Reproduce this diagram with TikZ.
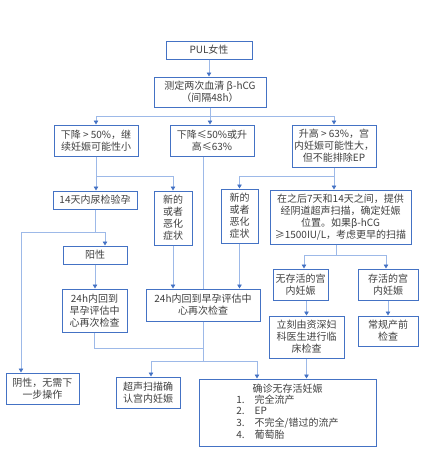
\documentclass[tikz,border=0pt]{standalone}
\usepackage{fontspec}
\setmainfont{Noto Sans CJK SC}
\usetikzlibrary{arrows.meta,calc}
\definecolor{boxblue}{HTML}{4472C4}
\definecolor{lineblue}{HTML}{9DB9E8}
\definecolor{txt}{HTML}{404040}
\begin{document}
\begin{tikzpicture}[x=1pt,y=-1pt,
 box/.style={draw=boxblue, line width=1pt, fill=white, text=txt, align=center, inner sep=1pt, font=\fontsize{10}{12}\selectfont},
 conn/.style={draw=lineblue, line width=0.9pt},
 arr/.style={conn, -{Triangle[width=4.5pt,length=4pt,color=boxblue]}}]
\fill[white] (0,0) rectangle (431,458);
\useasboundingbox (0,0) rectangle (431,458);

\node[box,minimum width=86pt,minimum height=18pt] (pul) at (209,50) {PUL女性};
\node[box,minimum width=112pt,minimum height=30pt] (hcg) at (210,92) {测定两次血清 β-hCG\\（间隔48h）};
\node[box,minimum width=84pt,minimum height=31pt] (d1) at (96,140.5) {下降 > 50\%，继\\续妊娠可能性小};
\node[box,minimum width=84pt,minimum height=31pt] (d2) at (212,140.5) {下降≤50\%或升\\高≤63\%};
\node[box,minimum width=84pt,minimum height=42pt] (d3) at (334,146) {升高 > 63\%，宫\\内妊娠可能性大，\\但不能排除EP};
\node[box,minimum width=84pt,minimum height=18pt] (urine) at (95,200) {14天内尿检验孕};
\node[box,minimum width=38pt,minimum height=54pt] (newL) at (173,218) {新的\\或者\\恶化\\症状};
\node[box,minimum width=37pt,minimum height=54pt] (newR) at (239.5,216) {新的\\或者\\恶化\\症状};
\node[box,minimum width=141pt,minimum height=54pt] (scan) at (340.5,217) {在之后7天和14天之间，提供\\经阴道超声扫描，确定妊娠\\位置。如果β-hCG\\≥1500IU/L，考虑更早的扫描};
\node[box,minimum width=64pt,minimum height=18pt] (pos) at (95,255) {阳性};
\node[box,minimum width=65pt,minimum height=43pt] (r24L) at (94.5,310.5) {24h内回到\\早孕评估中\\心再次检查};
\node[box,minimum width=114pt,minimum height=32pt] (r24M) at (203,305) {24h内回到早孕评估中\\心再次检查};
\node[box,minimum width=55pt,minimum height=31pt] (nv) at (300.5,284.5) {无存活的宫\\内妊娠};
\node[box,minimum width=60pt,minimum height=31pt] (via) at (388,284.5) {存活的宫\\内妊娠};
\node[box,minimum width=75pt,minimum height=42pt] (imm) at (306.5,337) {立刻由资深妇\\科医生进行临\\床检查};
\node[box,minimum width=60pt,minimum height=30pt] (rout) at (388,331) {常规产前\\检查};
\node[box,minimum width=73pt,minimum height=31pt] (neg) at (42.5,388.5) {阴性，无需下\\一步操作};
\node[box,minimum width=64pt,minimum height=31pt] (us) at (148,392.5) {超声扫描确\\认宫内妊娠};
\node[box,minimum width=177pt,minimum height=67pt] (conf) at (287.5,412.5) {确诊无存活妊娠\\[1pt]{\def\arraystretch{0.92}\begin{tabular}{@{}l@{\hspace{10pt}}l@{}}1. & 完全流产\\ 2. & EP\\ 3. & 不完全/错过的流产\\ 4. & 葡萄胎\end{tabular}}};

\coordinate (b1) at (0,116);
\coordinate (b2) at (0,176);
\coordinate (b3) at (21,232);
\coordinate (b4) at (105,232);
\coordinate (b6) at (336,255);
\coordinate (b7) at (304,255);
\coordinate (b8) at (386,255);
\coordinate (b9) at (0,348);
\coordinate (b10) at (0,361);
\coordinate (b11) at (151,361);
\coordinate (b12) at (257,361);

\draw[arr] (pul.south) -- (pul.south |- hcg.north);
\draw[arr] (hcg.south) -- (hcg.south |- d2.north);
\draw[conn] (d1.north |- b1) -- (d3.north |- b1);
\draw[arr] (d1.north |- b1) -- (d1.north);
\draw[arr] (d3.north |- b1) -- (d3.north);

\draw[arr] (d1.south) -- (d1.south |- urine.north);
\draw[conn] (d1.south |- b2) -- (newL.north |- b2);
\draw[arr] (newL.north |- b2) -- (newL.north);

\draw[conn] (urine.south) -- (urine.south |- b3);
\draw[conn] (b3) -- (b4);
\draw[arr] (b4) -- (b4 |- pos.north);
\draw[arr] (b3) -- (b3 |- neg.north);
\draw[arr] (pos.south) -- (pos.south |- r24L.north);
\draw[arr] (newL.south) -- (newL.south |- r24M.north);
\draw[conn] (d2.south -| r24M.north) -- (r24M.north);

\draw[conn] (d3.south) -- (d3.south |- b2);
\draw[conn] (newR.north |- b2) -- (d3.south |- b2);
\draw[arr] (newR.north |- b2) -- (newR.north);
\draw[arr] (d3.south |- b2) -- (d3.south |- scan.north);
\draw[arr] (newR.south) -- (newR.south |- r24M.north);

\draw[conn] (b6 |- scan.south) -- (b6);
\draw[conn] (b7) -- (b8);
\draw[arr] (b7) -- (b7 |- nv.north);
\draw[arr] (b8) -- (b8 |- via.north);
\draw[arr] (imm.north |- nv.south) -- (imm.north);
\draw[arr] (via.south) -- (rout.north);
\draw[arr] (imm.south) -- (imm.south |- conf.north);

\draw[conn] (r24L.south) -- (r24L.south |- b9) -- (r24M.south |- b9);
\draw[conn] (r24M.south) -- (r24M.south |- b10);
\draw[conn] (b11) -- (b12);
\draw[arr] (b11) -- (b11 |- us.north);
\draw[arr] (b12) -- (b12 |- conf.north);
\end{tikzpicture}
\end{document}
